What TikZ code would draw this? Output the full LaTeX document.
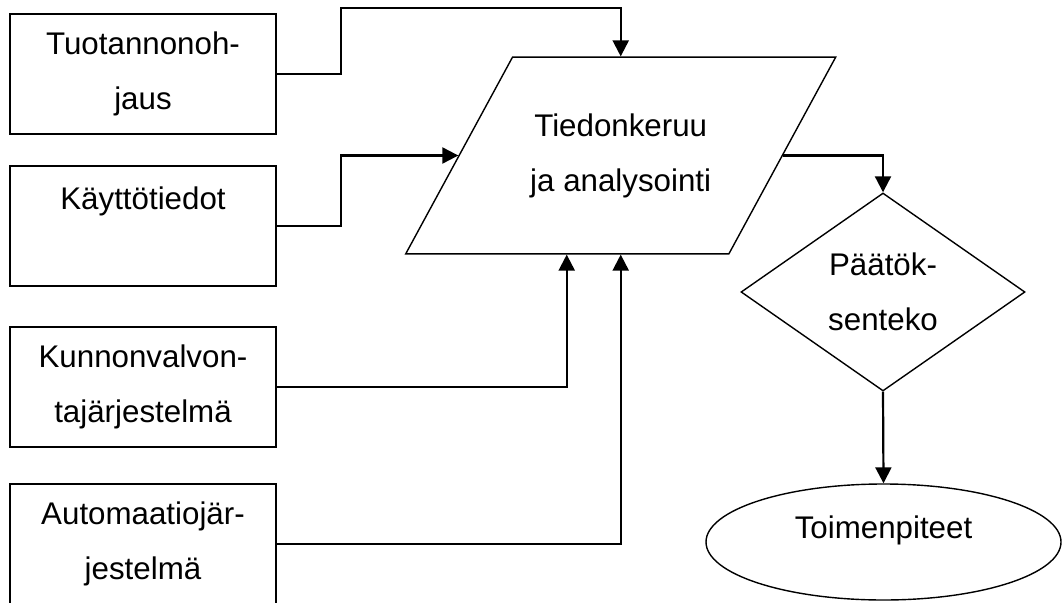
\documentclass[tikz,border=0pt]{standalone}
\usepackage{fontspec}
\setmainfont{Liberation Sans}
\usepackage{tikz}
\usetikzlibrary{arrows.meta, shapes.geometric}

\tikzset{
    box/.style={draw, line width=1.4pt, rectangle, minimum width=266pt, minimum height=120pt, align=center, inner sep=0pt},
    flow/.style={line width=2.2pt, -{Triangle[length=16pt, width=16pt]}},
}

\begin{document}
\begin{tikzpicture}[x=1pt, y=-1pt, font=\fontsize{31.3pt}{55pt}\selectfont]

    % --- 描画領域 ---
    \useasboundingbox (0,0) rectangle (1062,602);
    \clip (0,0) rectangle (1062,602);

    % --- 入力ボックス（左列）---
    \node[box] (tuo) at (143, 74)  {Tuotannonoh-\\jaus};
    \node[box] (kay) at (143, 226) {Käyttötiedot\\\mbox{}};
    \node[box] (kv)  at (143, 387) {Kunnonvalvon-\\tajärjestelmä};
    \node[box] (aut) at (143, 544) {Automaatiojär-\\jestelmä};

    % --- データ収集と分析（平行四辺形）---
    \node[draw, line width=1.4pt, trapezium, trapezium left angle=61.5, trapezium right angle=118.5,
          trapezium stretches body, minimum width=430pt, inner xsep=0pt, inner ysep=56.3pt, align=center]
        (data) at (620.7, 155.5) {Tiedonkeruu\\ja analysointi};

    % --- 意思決定（ひし形）---
    \node[draw, line width=1.4pt, diamond, aspect=1.43, minimum width=284pt, minimum height=198pt,
          inner sep=0pt, align=center] (dec) at (883, 292) {Päätök-\\senteko};

    % --- 対策（楕円）---
    \node[draw, line width=1.4pt, ellipse, minimum width=355pt, minimum height=116pt, text depth=30pt]
        (act) at (883.5, 542) {Toimenpiteet};

    % --- 矢印 ---
    \draw[flow] (tuo.east) -- ++(64,0) |- ([yshift=48pt]data.north) -- (data.north);
    \draw[flow] (kay.east) -- ++(64,0) |- (data.west);
    \draw[flow] (kv.east) -| ([xshift=-54pt]data.south);
    \draw[flow] (aut.east) -| (data.south);
    \draw[flow] (data.east) -| (dec.north);
    \draw[flow] (dec.south) -- (act.north);

\end{tikzpicture}
\end{document}
